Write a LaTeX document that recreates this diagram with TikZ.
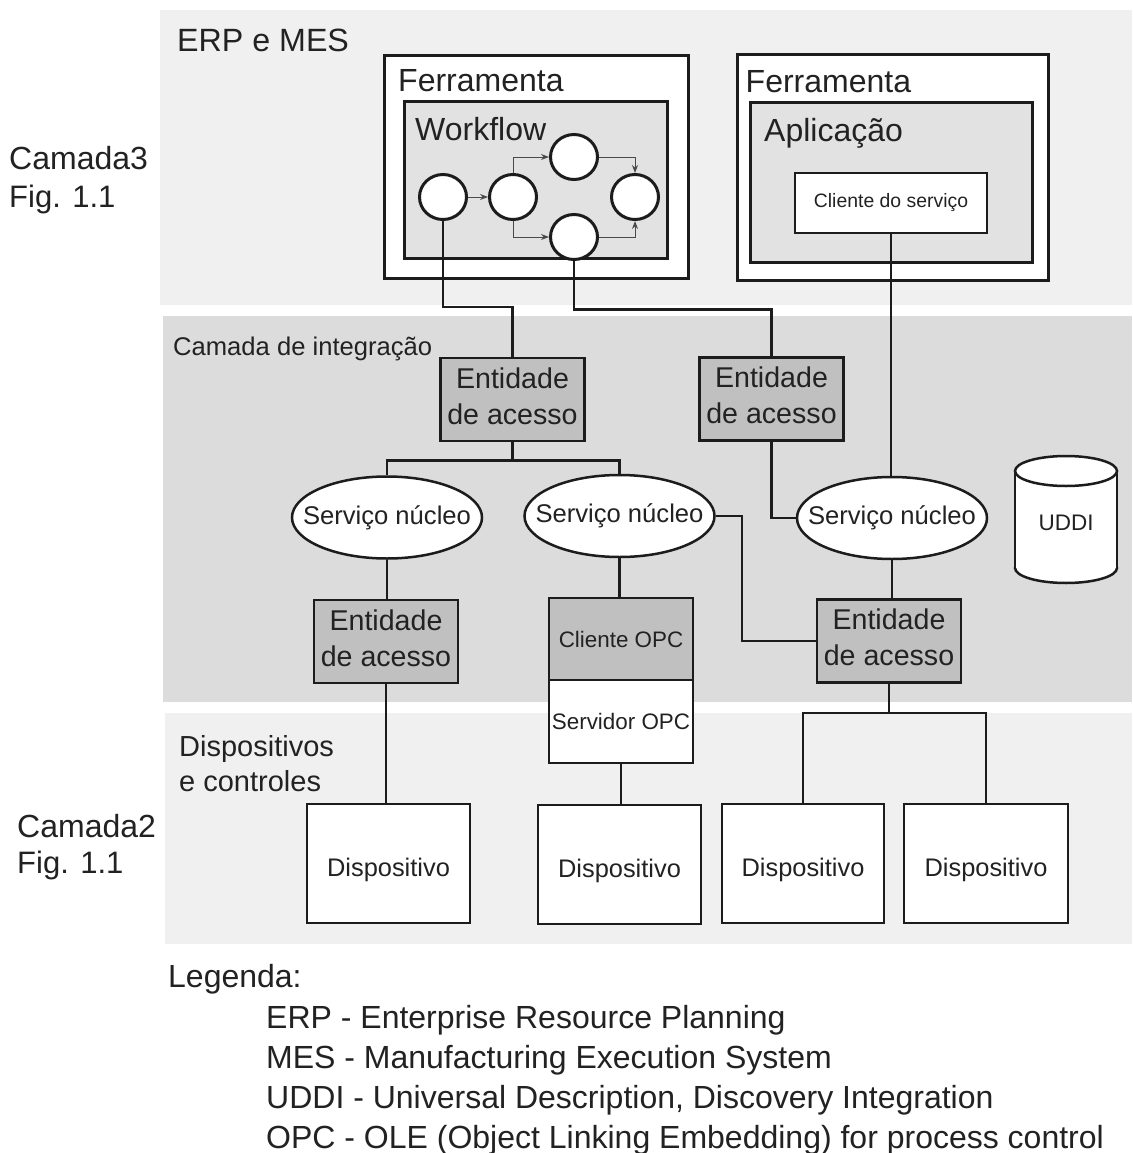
\documentclass[tikz,border=0pt]{standalone}
\usepackage{fontspec}
\setmainfont{Liberation Sans}
\usetikzlibrary{shapes.geometric,arrows.meta,calc}
\definecolor{bandlight}{HTML}{F0F0F0}
\definecolor{bandmid}{HTML}{DCDCDC}
\definecolor{boxgray}{HTML}{E2E2E2}
\definecolor{entgray}{HTML}{C0C0C0}
\definecolor{ink}{HTML}{1C1C1C}
\definecolor{txt}{HTML}{222222}
\newcommand\fsz[2]{\fontsize{#1}{#2}\selectfont}
\begin{document}
\begin{tikzpicture}[x=1pt,y=-1pt,
  band/.style={draw=none,inner sep=0,anchor=north west},
  frame/.style={draw=ink,line width=3pt,fill=white,inner sep=0},
  panel/.style={draw=ink,line width=3pt,fill=boxgray,inner sep=0},
  entbox/.style={draw=ink,line width=2.5pt,fill=entgray,align=center,inner sep=0,
    minimum width=144pt,minimum height=83pt,text=txt,font=\fsz{28.6}{36},text depth=7pt},
  svc/.style={ellipse,draw=ink,line width=2.5pt,fill=white,inner sep=0,
    minimum width=190pt,minimum height=82pt,text=txt,font=\fsz{25.6}{30}},
  dev/.style={draw=ink,line width=2.5pt,fill=white,inner sep=0,
    minimum width=163pt,minimum height=119pt,text=txt,font=\fsz{25.4}{30},
    text height=25pt,text depth=0pt},
  opcbox/.style={draw=ink,line width=2.5pt,inner sep=0,
    minimum width=144pt,text=txt,font=\fsz{22.4}{26}},
  wnode/.style={ellipse,draw=ink,line width=3pt,fill=white,inner sep=0,
    minimum width=47pt,minimum height=45pt},
  conn/.style={draw=ink,line width=2.5pt},
  warrow/.style={draw=ink!80,line width=1pt,-{Stealth[length=8pt,width=6pt]}},
  lbl/.style={anchor=base west,inner sep=0,text=txt}
]
\useasboundingbox (0,0) rectangle (1132,1153);
\fill[white] (0,0) rectangle (1132,1153);

% layer bands
\node[band,fill=bandlight,minimum width=972pt,minimum height=295pt] (erpband) at (160,10) {};
\node[band,fill=bandmid,minimum width=969pt,minimum height=386pt] (intband) at (163,316) {};
\node[band,fill=bandlight,minimum width=967pt,minimum height=231pt] (devband) at (165,713) {};

% band titles and layer references
\node[lbl,font=\fsz{32.2}{38}] (erptitle) at (177,52) {ERP e MES};
\node[lbl,font=\fsz{25.6}{30}] (inttitle) at (173,355) {Camada de integração};
\node[lbl,font=\fsz{29}{35}] (devtitle1) at (179,756) {Dispositivos};
\node[lbl,font=\fsz{29}{35}] (devtitle2) at (179,791) {e controles};
\node[lbl,font=\fsz{32}{38}] (cam3) at (9,169) {Camada3};
\node[lbl,font=\fsz{31}{37}] (cam3fig) at (9,207) {Fig. 1.1};
\node[lbl,font=\fsz{32}{38}] (cam2) at (17,837) {Camada2};
\node[lbl,font=\fsz{31}{37}] (cam2fig) at (17,873) {Fig. 1.1};

% workflow tool
\node[frame,minimum width=304pt,minimum height=222pt] (toolA) at (536,167) {};
\node[panel,minimum width=263pt,minimum height=156pt] (wf) at (535.5,180) {};
\node[lbl,font=\fsz{32}{38}] (toolAlbl) at (398,92) {Ferramenta};
\node[lbl,font=\fsz{32}{38}] (wflbl) at (415,140) {Workflow};
\node[wnode] (c1) at (443,197) {};
\node[wnode] (c2) at (513,197) {};
\node[wnode] (c3) at (574,157) {};
\node[wnode] (c4) at (635,197) {};
\node[wnode] (c5) at (574,237) {};
\draw[warrow] (c1.east) -- (c2.west);
\draw[warrow] (c2.north) |- (c3.west);
\draw[warrow] (c2.south) |- (c5.west);
\draw[warrow] (c3.east) -| (c4.north);
\draw[warrow] (c5.east) -| (c4.south);

% application tool
\node[frame,minimum width=311pt,minimum height=225pt] (toolB) at (892.5,167.5) {};
\node[panel,minimum width=282pt,minimum height=159pt] (app) at (891,182.5) {};
\node[lbl,font=\fsz{32}{38}] (toolBlbl) at (745.5,93) {Ferramenta};
\node[lbl,font=\fsz{32}{38}] (applbl) at (764,141) {Aplicação};
\node[frame,line width=2.5pt,minimum width=192pt,minimum height=60pt,text=txt,font=\fsz{19.4}{23}] (cli) at (891,203) {Cliente do serviço};

% integration layer
\node[entbox] (ea1) at (512.5,399.5) {Entidade\\de acesso};
\node[entbox] (ea2) at (771.5,399) {Entidade\\de acesso};
\node[svc] (s1) at (387,517.5) {\makebox[0pt]{Serviço núcleo}};
\node[svc] (s2) at (619.5,516) {\makebox[0pt]{Serviço núcleo}};
\node[svc] (s3) at (892,518) {\makebox[0pt]{Serviço núcleo}};
\node[entbox] (ea4) at (386,641.5) {Entidade\\de acesso};
\node[entbox] (ea3) at (889,641) {Entidade\\de acesso};
\node[opcbox,fill=entgray,minimum height=82pt] (opcc) at (621,639) {Cliente OPC};
\node[opcbox,fill=white,minimum height=83pt,text height=22pt,text depth=6pt] (opcs) at (621,721.5) {Servidor OPC};

% UDDI registry
\fill[white,draw=ink,line width=2.5pt] (1066,568) ellipse [x radius=51pt,y radius=15pt];
\fill[white] (1015,471) rectangle (1117,568);
\draw[ink,line width=2.5pt] (1015,471) -- (1015,568) (1117,471) -- (1117,568);
\fill[white,draw=ink,line width=2.5pt] (1066,471) ellipse [x radius=51pt,y radius=15pt];
\node[text=txt,font=\fsz{22.5}{26},inner sep=0] (uddi) at (1066,523) {UDDI};

% devices
\node[dev] (d1) at (388.5,863.5) {Dispositivo};
\node[dev] (d2) at (619.5,864.5) {Dispositivo};
\node[dev,minimum width=162pt] (d3) at (803,863.5) {Dispositivo};
\node[dev,minimum width=164pt] (d4) at (986,863.5) {Dispositivo};

% connectors
\draw[conn] (c1.south) |- ($(ea1.north)+(0,-50)$) -- (ea1.north);
\draw[conn] (c5.south) |- ($(ea2.north)+(0,-47)$) -- (ea2.north);
\draw[conn] (cli.south) -- (cli.south |- s3.north);
\draw[conn] (ea1.south) -- ++(0,18) coordinate (j1);
\draw[conn] (s1.north) |- (j1) -| (s2.north);
\draw[conn] (ea2.south) |- (s3.west);
\draw[conn] (s1.south) -- (s1.south |- ea4.north);
\draw[conn] (s2.south) -- (s2.south |- opcc.north);
\draw[conn] (s2.east) -| ($(ea3.west)+(-74,0)$) -- (ea3.west);
\draw[conn] (s3.south) -- (s3.south |- ea3.north);
\draw[conn] (ea3.south) -- ++(0,29) coordinate (j3);
\draw[conn] (d3.north) |- (j3) -| (d4.north);
\draw[conn] (ea4.south) -- (ea4.south |- d1.north);
\draw[conn] (opcs.south) -- (opcs.south |- d2.north);

% legend
\node[lbl,font=\fsz{32}{38}] (leg) at (168,987) {Legenda:};
\node[lbl,font=\fsz{32}{38}] (legerp) at (266,1028) {ERP - Enterprise Resource Planning};
\node[lbl,font=\fsz{32}{38}] (legmes) at (266,1068) {MES - Manufacturing Execution System};
\node[lbl,font=\fsz{32}{38}] (leguddi) at (266,1108) {UDDI - Universal Description, Discovery Integration};
\node[lbl,font=\fsz{32}{38}] (legopc) at (266,1148) {OPC - OLE (Object Linking Embedding) for process control};
\end{tikzpicture}
\end{document}
